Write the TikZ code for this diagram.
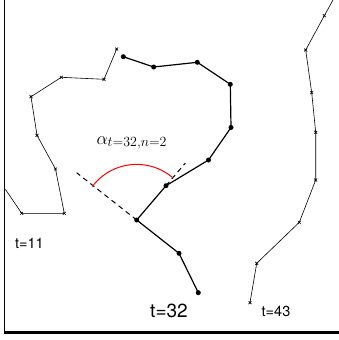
\RequirePackage{fix-cm}
\documentclass[tikz,border=0pt]{standalone}
\usepackage{fontspec}
\setsansfont{TeX Gyre Heros}
\usetikzlibrary{calc}
\tikzset{
  other/.style={line width=.6pt, mark=x, mark size=2pt, mark options={line width=.7pt}},
  focus/.style={line width=1.2pt},
  dot/.style={circle, fill, inner sep=0pt, minimum size=5pt},
  tlabel/.style={font=\sffamily\fontsize{14.5}{17}\selectfont, inner sep=0pt},
}
\begin{document}
\begin{tikzpicture}[x=1pt,y=-1pt]
        \useasboundingbox (0,0) rectangle (339,340);
        % axes
        \draw[line width=1.4pt](4.7,0) -- (4.7,333.5);
        \draw[line width=2.6pt](4,332.7) -- (339,332.7);
        \begin{scope}
        \clip (5.4,0) rectangle (339,331);
        % t=11
        \draw[other] plot coordinates {(-3,177) (21.7,213.3) (64.3,213.3) (55.5,169) (37,135.3) (31,96.7) (61.3,77.3) (104,79.3) (116.7,49)};
        % t=43
        \draw[other] plot coordinates {(338,-9) (324.3,15.7) (305.7,50) (311.7,92.7) (315.7,132.3) (315.7,180) (299.3,222.3) (256.7,263.3) (250,302.7)};
        \end{scope}
        % t=32
        \coordinate (p1) at (198.3,292.7);
        \coordinate (p2) at (179,253.3);
        \coordinate (p3) at (136.7,220);
        \coordinate (p4) at (166,185.7);
        \coordinate (p5) at (208.5,160);
        \coordinate (p6) at (231,127.5);
        \coordinate (p7) at (230.3,84.3);
        \coordinate (p8) at (197.3,62.3);
        \coordinate (p9) at (153.7,67);
        \coordinate (p10) at (123.3,56.7);
        \draw[focus](p1) -- (p2) -- (p3) -- (p4) -- (p5) -- (p6) -- (p7) -- (p8) -- (p9) -- (p10);
        \foreach \p in {p1,p2,p3,p4,p5,p6,p7,p8,p9,p10}
            \node[dot] at (\p) {};
        \draw[line width=1pt, dash pattern=on 5pt off 4pt](p3) -- ($(p3)!-1.42!(p2)$);
        \draw[line width=1pt, dash pattern=on 5pt off 4pt](p4) -- ($(p4)!-0.66!(p3)$);
        \draw[red, line width=1pt](92.2,186.6) arc[start angle=-143.1, end angle=-50.2, radius=55.6];
        \node[anchor=base west, inner sep=0pt, font=\fontsize{18}{21}\selectfont] (alpha) at (96.3,144) {$\alpha_{\mbox{\fontsize{14}{17}\selectfont$t{=}32{,}n{=}2$}}$};
        \node[tlabel] (l11) at (29.5,243.7) {t=11};
        \node[tlabel, font=\sffamily\fontsize{19}{22}\selectfont] (l32) at (169,311) {t=32};
        \node[tlabel] (l43) at (276,311) {t=43};
\end{tikzpicture}
\end{document}
